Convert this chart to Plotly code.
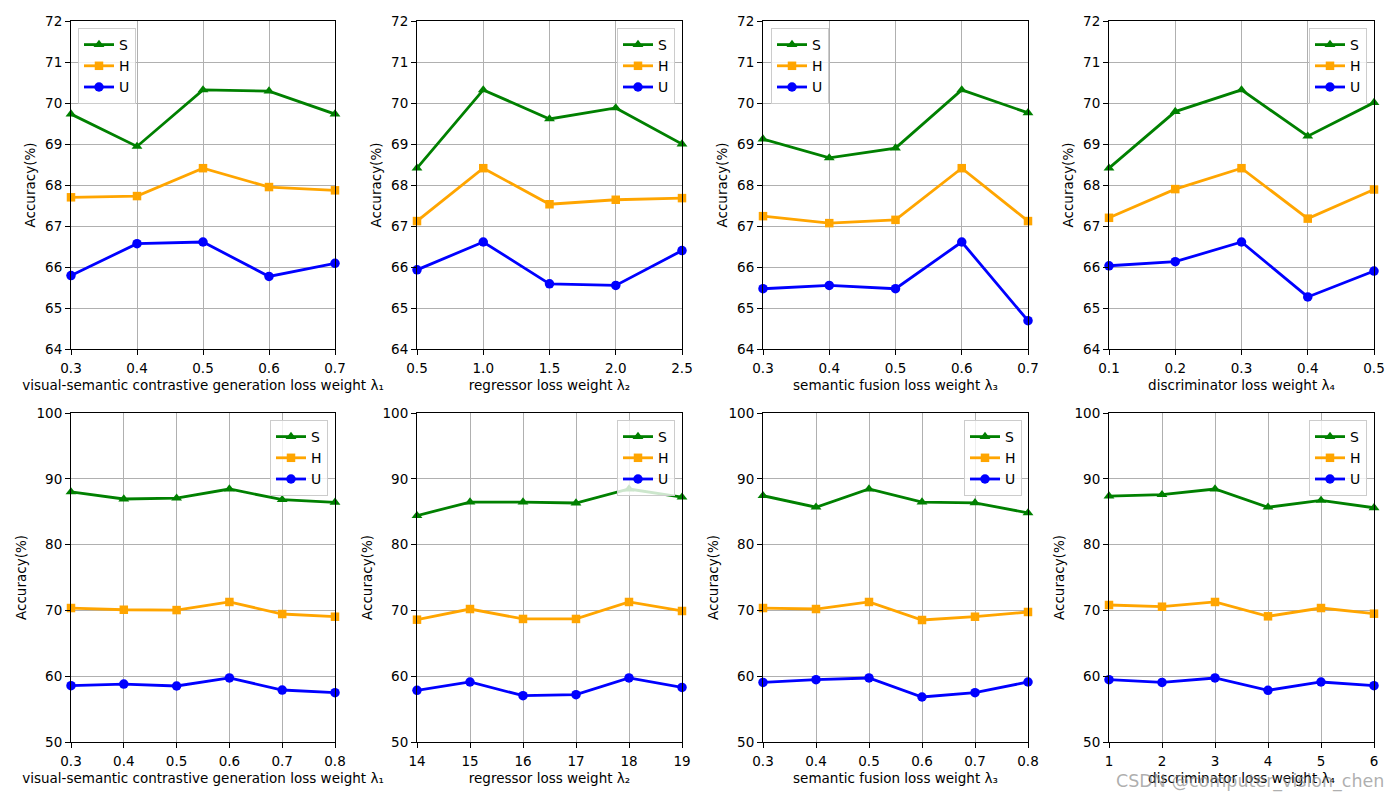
import plotly.graph_objects as go
from plotly.subplots import make_subplots

# ---------------- data ----------------
# top row (panel 1-4)
x_p1 = [0.3, 0.4, 0.5, 0.6, 0.7]
S_p1 = [69.73, 68.94, 70.32, 70.29, 69.73]
H_p1 = [67.70, 67.73, 68.41, 67.95, 67.87]
U_p1 = [65.79, 66.57, 66.61, 65.77, 66.09]

x_p2 = [0.5, 1.0, 1.5, 2.0, 2.5]
S_p2 = [68.41, 70.32, 69.61, 69.88, 69.00]
H_p2 = [67.12, 68.41, 67.53, 67.64, 67.68]
U_p2 = [65.93, 66.61, 65.59, 65.55, 66.40]

x_p3 = [0.3, 0.4, 0.5, 0.6, 0.7]
S_p3 = [69.12, 68.66, 68.90, 70.32, 69.76]
H_p3 = [67.24, 67.07, 67.15, 68.41, 67.12]
U_p3 = [65.47, 65.55, 65.47, 66.61, 64.69]

x_p4 = [0.1, 0.2, 0.3, 0.4, 0.5]
S_p4 = [68.41, 69.79, 70.32, 69.19, 70.01]
H_p4 = [67.20, 67.90, 68.41, 67.18, 67.89]
U_p4 = [66.03, 66.13, 66.61, 65.27, 65.90]

# bottom row (panel 5-8)
x_p5 = [0.3, 0.4, 0.5, 0.6, 0.7, 0.8]
S_p5 = [88.00, 86.93, 87.05, 88.45, 86.82, 86.42]
H_p5 = [70.36, 70.10, 70.05, 71.28, 69.45, 69.04]
U_p5 = [58.56, 58.81, 58.51, 59.73, 57.90, 57.50]

x_p6 = [14, 15, 16, 17, 18, 19]
S_p6 = [84.40, 86.47, 86.47, 86.32, 88.45, 87.20]
H_p6 = [68.59, 70.21, 68.70, 68.70, 71.28, 69.91]
U_p6 = [57.85, 59.12, 57.04, 57.19, 59.73, 58.30]

x_p7 = [0.3, 0.4, 0.5, 0.6, 0.7, 0.8]
S_p7 = [87.43, 85.68, 88.45, 86.47, 86.35, 84.82]
H_p7 = [70.36, 70.21, 71.28, 68.54, 69.04, 69.76]
U_p7 = [59.06, 59.47, 59.73, 56.84, 57.50, 59.12]

x_p8 = [1, 2, 3, 4, 5, 6]
S_p8 = [87.38, 87.58, 88.45, 85.68, 86.72, 85.60]
H_p8 = [70.82, 70.56, 71.28, 69.10, 70.36, 69.50]
U_p8 = [59.47, 59.06, 59.73, 57.85, 59.12, 58.56]

series_names = ["S", "H", "U"]

xlabels = [
    "visual-semantic contrastive generation loss weight λ₁",
    "regressor loss weight λ₂",
    "semantic fusion loss weight λ₃",
    "discriminator loss weight λ₄",
    "visual-semantic contrastive generation loss weight λ₁",
    "regressor loss weight λ₂",
    "semantic fusion loss weight λ₃",
    "discriminator loss weight λ₄",
]
ylabel = "Accuracy(%)"
watermark = "CSDN @computer_vision_chen"

panels = [
    (x_p1, S_p1, H_p1, U_p1),
    (x_p2, S_p2, H_p2, U_p2),
    (x_p3, S_p3, H_p3, U_p3),
    (x_p4, S_p4, H_p4, U_p4),
    (x_p5, S_p5, H_p5, U_p5),
    (x_p6, S_p6, H_p6, U_p6),
    (x_p7, S_p7, H_p7, U_p7),
    (x_p8, S_p8, H_p8, U_p8),
]

# ---------------- style ----------------
OFF = 8                      # page body margin of the browser
W, H = 1400 - OFF, 800 - OFF


def px(xp):
    return (xp - OFF) / W


def py(yp):
    return 1 - (yp - OFF) / H


colors = ["#008000", "#FFA500", "#0000FF"]
symbols = ["triangle-up", "square", "circle"]
msizes = [9.5, 8.5, 9.5]
FONT = "DejaVu Sans"
FS = 13.5

xcols = [(71, 335), (417, 682), (763, 1028), (1109, 1374)]
yrows = [(21, 349), (413, 742)]
xranges = [(0.3, 0.7), (0.5, 2.5), (0.3, 0.7), (0.1, 0.5),
           (0.3, 0.8), (14, 19), (0.3, 0.8), (1, 6)]
tickfmts = [".1f", ".1f", ".1f", ".1f", ".1f", "d", ".1f", "d"]
# legend anchor: (x px, y px, xanchor)
legpos = [(78, 28, "left"), (675, 28, "right"), (771, 28, "left"), (1367, 28, "right"),
          (328, 420, "right"), (675, 420, "right"), (1022, 420, "right"), (1367, 420, "right")]

fig = make_subplots(rows=2, cols=4)

for i, (xs, s, h, u) in enumerate(panels):
    r, c = i // 4 + 1, i % 4 + 1
    legname = "legend" if i == 0 else f"legend{i + 1}"
    for k, ys in enumerate([s, h, u]):
        fig.add_trace(go.Scatter(
            x=xs, y=ys, name=series_names[k], mode="lines+markers",
            line=dict(color=colors[k], width=2.8),
            marker=dict(color=colors[k], symbol=symbols[k], size=msizes[k]),
            legend=legname, cliponaxis=False,
        ), row=r, col=c)

    x0, x1 = xcols[i % 4]
    y0, y1 = yrows[i // 4]
    ax = dict(
        domain=[px(x0), px(x1)],
        range=list(xranges[i]),
        tickvals=xs,
        tickformat=tickfmts[i],
        automargin=False,
        showline=True, mirror=True, linecolor="black", linewidth=1.1,
        ticks="outside", ticklen=5, tickcolor="black", tickwidth=1.1,
        ticklabelstandoff=2,
        showgrid=True, gridcolor="#b0b0b0", gridwidth=1.1,
        zeroline=False,
        tickfont=dict(family=FONT, size=FS, color="black"),
        title=dict(text=xlabels[i], font=dict(family=FONT, size=FS, color="black"), standoff=5),
    )
    if i < 4:
        ay_range, ay_ticks = [64, 72], list(range(64, 73))
    else:
        ay_range, ay_ticks = [50, 100], list(range(50, 101, 10))
    ay = dict(
        domain=[py(y1), py(y0)],
        range=ay_range, tickvals=ay_ticks,
        automargin=False,
        showline=True, mirror=True, linecolor="black", linewidth=1.1,
        ticks="outside", ticklen=5, tickcolor="black", tickwidth=1.1,
        showgrid=True, gridcolor="#b0b0b0", gridwidth=1.1,
        zeroline=False,
        tickfont=dict(family=FONT, size=FS, color="black"),
        title=dict(text=ylabel, font=dict(family=FONT, size=FS, color="black"), standoff=6),
    )
    fig.update_xaxes(ax, row=r, col=c)
    fig.update_yaxes(ay, row=r, col=c)

    lx, ly, xa = legpos[i]
    fig.update_layout(**{legname: dict(
        x=px(lx), y=py(ly), xanchor=xa, yanchor="top",
        bgcolor="rgba(255,255,255,0.8)", bordercolor="#cccccc", borderwidth=1,
        font=dict(family=FONT, size=FS + 0.5, color="black"),
        itemwidth=30, tracegroupgap=0,
    )})

fig.add_annotation(
    text=watermark, xref="paper", yref="paper", x=px(1386), y=py(781),
    xanchor="right", yanchor="middle", showarrow=False,
    font=dict(family=FONT, size=17.5, color="rgba(140,140,140,0.7)"),
)

fig.update_layout(
    width=W, height=H, autosize=False,
    margin=dict(l=0, r=0, t=0, b=0),
    paper_bgcolor="white", plot_bgcolor="white",
    font=dict(family=FONT, size=FS, color="black"),
)

fig.write_html("out.html")
